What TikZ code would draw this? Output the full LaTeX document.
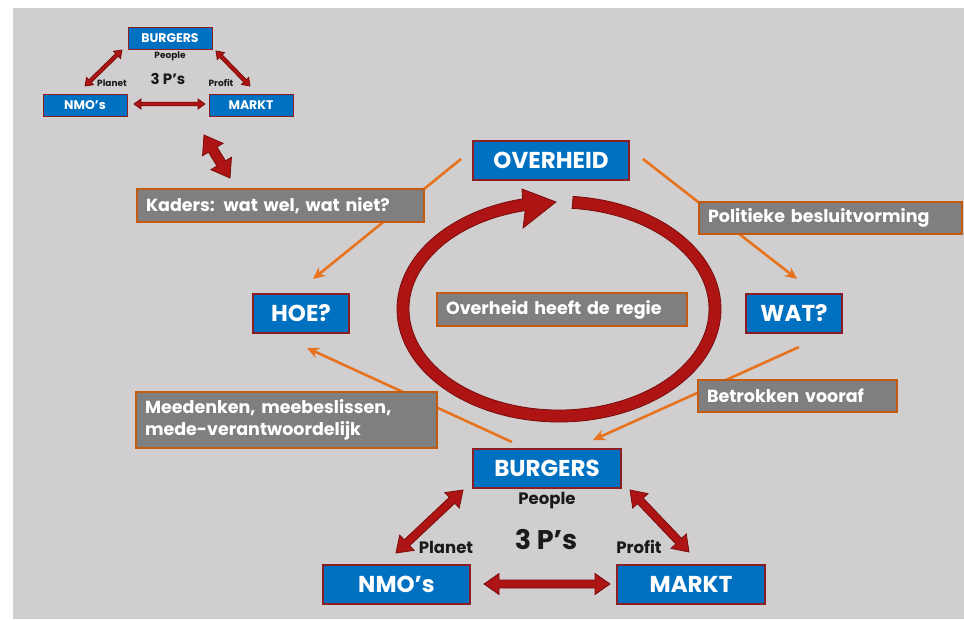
\documentclass[tikz,border=0pt]{standalone}
\usepackage{fontspec}
\setmainfont{Poppins}
\usetikzlibrary{calc,arrows.meta}

\definecolor{bgGrey}{HTML}{D0CECE}
\definecolor{boxBlue}{HTML}{0070C0}
\definecolor{boxEdge}{HTML}{8B1E22}
\definecolor{noteGrey}{HTML}{7F7F7F}
\definecolor{noteEdge}{HTML}{C55A11}
\definecolor{linkOrange}{HTML}{E8731E}
\definecolor{arrowRed}{HTML}{AE1414}
\definecolor{arrowDark}{HTML}{7A0C0C}
\definecolor{inkBlack}{HTML}{1A1A1A}

% double-headed block arrow between two named points:
% #1,#2 end points, #3 shaft half-width, #4 head half-width, #5 head length
\newcommand\dblblock[5]{%
  \filldraw[blockarrow]
    (#1) -- ($(#1)!#5!(#2)!#4!90:(#2)$) -- ($(#1)!#5!(#2)!#3!90:(#2)$)
    -- ($(#2)!#5!(#1)!#3!-90:(#1)$) -- ($(#2)!#5!(#1)!#4!-90:(#1)$)
    -- (#2) -- ($(#2)!#5!(#1)!#4!90:(#1)$) -- ($(#2)!#5!(#1)!#3!90:(#1)$)
    -- ($(#1)!#5!(#2)!#3!-90:(#2)$) -- ($(#1)!#5!(#2)!#4!-90:(#2)$) -- cycle;}

\begin{document}
\begin{tikzpicture}[x=1pt,y=-1pt,
  actor/.style={draw=boxEdge, line width=1.3pt, fill=boxBlue, text=white,
    font=\bfseries\fontsize{23}{26}\selectfont, inner sep=0pt},
  miniactor/.style={actor, line width=0.8pt, font=\bfseries\fontsize{12.5}{14}\selectfont},
  note/.style={draw=noteEdge, line width=1.3pt, fill=noteGrey, text=white,
    font=\bfseries\fontsize{17.5}{22}\selectfont, align=left,
    inner xsep=9pt, inner ysep=0pt},
  link/.style={draw=linkOrange, line width=2.6pt, -{Stealth[length=12pt,width=11pt]}},
  blockarrow/.style={fill=arrowRed, draw=arrowDark, line width=0.8pt},
  tag/.style={text=inkBlack, font=\bfseries\fontsize{16.5}{18}\selectfont},
  minitag/.style={text=inkBlack, font=\bfseries\fontsize{9}{10}\selectfont},
]
\useasboundingbox (0,0) rectangle (964,619);
\fill[bgGrey] (13,8) rectangle (964,619);

% ---- small 3 P's triangle, upper left ----
\node[miniactor, minimum width=84, minimum height=22] (sburgers) at (170,38) {BURGERS};
\node[miniactor, minimum width=84, minimum height=22] (snmo) at (85,105) {NMO’s};
\node[miniactor, minimum width=84, minimum height=22] (smarkt) at (251,105) {MARKT};
\node[minitag] (speople) at (170,56) {People};
\node[tag, font=\bfseries\fontsize{15}{17}\selectfont] (sthree) at (168,79) {3 P’s};
\node[minitag] (splanet) at (112,83) {Planet};
\node[minitag] (sprofit) at (221,83) {Profit};

\coordinate (sa1) at (122,50);  \coordinate (sa2) at (85,86);
\coordinate (sb1) at (216,51);  \coordinate (sb2) at (250,86);
\coordinate (sc1) at (134,104); \coordinate (sc2) at (205,104);
\dblblock{sa1}{sa2}{1.8pt}{5pt}{7pt}
\dblblock{sb1}{sb2}{1.8pt}{5pt}{7pt}
\dblblock{sc1}{sc2}{1.8pt}{5pt}{7pt}

% link between the small triangle and the frame note
\coordinate (ka1) at (204,135); \coordinate (ka2) at (230,178);
\dblblock{ka1}{ka2}{5pt}{12pt}{17pt}

% ---- orange connectors (under the notes) ----
\coordinate (o1s) at (461,159); \coordinate (o1e) at (313,279);
\coordinate (o2s) at (643,159); \coordinate (o2e) at (797,279);
\coordinate (o3s) at (799,347); \coordinate (o3e) at (593,440);
\coordinate (o4s) at (512,442); \coordinate (o4e) at (307,348);
\draw[link] (o1s) -- (o1e);
\draw[link] (o2s) -- (o2e);
\draw[link] (o3s) -- (o3e);
\draw[link] (o4s) -- (o4e);

% ---- the cycle ring ----
\coordinate (ringc) at (559,309);
\filldraw[blockarrow]
  ($(ringc)+(-85:162 and 113)$)
  arc[start angle=-85, end angle=257, x radius=162, y radius=113]
  -- (522,189) -- (556,202) -- (523,228)
  -- ($(ringc)+(257:150 and 101)$)
  arc[start angle=257, end angle=-85, x radius=150, y radius=101]
  -- cycle;

% ---- main actors ----
\node[actor, minimum width=156, minimum height=39] (overheid) at (551,160.5) {OVERHEID};
\node[actor, minimum width=96, minimum height=39] (hoe) at (301,313.5) {HOE?};
\node[actor, minimum width=96, minimum height=39] (wat) at (794,313.5) {WAT?};
\node[actor, minimum width=148, minimum height=39] (burgers) at (547,468.5) {BURGERS};
\node[actor, minimum width=147, minimum height=39] (nmo) at (396.5,584.5) {NMO’s};
\node[actor, minimum width=148, minimum height=39] (markt) at (691,584.5) {MARKT};

% ---- notes ----
\node[note, text width=269, minimum height=33] (kaders) at (280.5,205.5) {Kaders: wat wel, wat niet?};
\node[note, text width=245, minimum height=32] (politiek) at (830.5,218) {Politieke besluitvorming};
\node[note, text width=181, minimum height=32] (betrokken) at (797.5,396) {Betrokken vooraf};
\node[note, text width=232, minimum height=33] (regie) at (562,309.5) {Overheid heeft de regie};
\node[note, text width=283, minimum height=56] (meedenken) at (286.5,420) {Meedenken, meebeslissen,\\mede-verantwoordelijk};

% ---- 3 P's labels, bottom ----
\node[tag] (people) at (547,501) {People};
\node[tag, font=\bfseries\fontsize{27}{29}\selectfont] (three) at (546,540) {3 P’s};
\node[tag] (planet) at (446,547) {Planet};
\node[tag] (profit) at (639,547) {Profit};

\coordinate (ba1) at (463,490); \coordinate (ba2) at (396,553);
\coordinate (bb1) at (630,490); \coordinate (bb2) at (689,552);
\coordinate (bc1) at (484,584); \coordinate (bc2) at (610,584);
\dblblock{ba1}{ba2}{4pt}{10.5pt}{15pt}
\dblblock{bb1}{bb2}{4pt}{10.5pt}{15pt}
\dblblock{bc1}{bc2}{4pt}{10.5pt}{15pt}
\end{tikzpicture}
\end{document}
